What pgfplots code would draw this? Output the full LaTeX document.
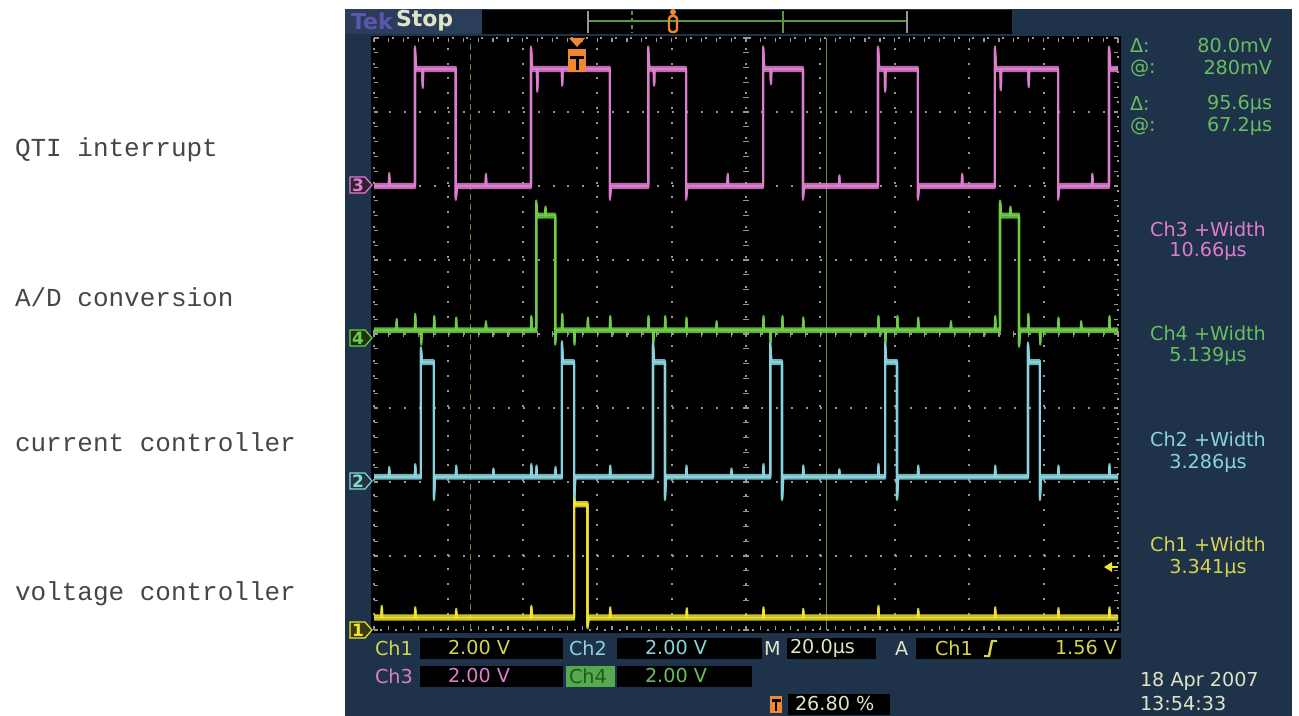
\documentclass[border=0pt]{standalone}
\usepackage{pgfplots}
\pgfplotsset{compat=1.18}
\usepackage{pgfplotstable}
\usepackage{fontspec}
\setmainfont{DejaVu Sans}
\newfontfamily\monof{Liberation Mono}

\definecolor{navy}{RGB}{30,50,74}
\definecolor{navylight}{RGB}{42,62,92}
\definecolor{cpink}{RGB}{222,125,205}
\definecolor{cgreen}{RGB}{110,205,70}
\definecolor{ccyan}{RGB}{135,212,222}
\definecolor{cyellow}{RGB}{238,228,50}
\definecolor{cyellowt}{RGB}{215,210,80}
\definecolor{tgreen}{RGB}{105,190,95}
\definecolor{corange}{RGB}{240,135,50}
\definecolor{cursorc}{RGB}{90,150,70}
\definecolor{gridc}{RGB}{150,150,150}
\definecolor{ltext}{RGB}{225,228,195}
\definecolor{labc}{RGB}{70,70,70}
\definecolor{tekc}{RGB}{95,85,175}
\definecolor{chfourbox}{RGB}{85,170,80}
\definecolor{chfourtxt}{RGB}{30,90,30}

% Ch3 (pink): time in microseconds, level in divisions
\pgfplotstableread{
t v
0 6.00
4.0 6.00
4.1 6.15
4.2 6.00
11.0 6.00
11.0 7.86
11.3 7.58
13.0 7.58
13.1 7.35
13.2 7.58
22.0 7.58
22.0 5.84
22.3 6.00
30.0 6.00
30.1 6.14
30.2 6.00
42.2 6.00
42.2 7.86
42.5 7.58
43.8 7.58
43.9 7.30
44.0 7.58
50.5 7.58
50.6 7.38
50.7 7.58
63.4 7.58
63.4 5.84
63.7 6.00
73.7 6.00
73.7 7.86
74.0 7.58
75.2 7.58
75.3 7.38
75.4 7.58
83.9 7.58
83.9 5.84
84.2 6.00
95.0 6.00
95.1 6.14
95.2 6.00
104.6 6.00
104.6 7.86
104.9 7.58
106.6 7.58
106.7 7.40
106.8 7.58
115.3 7.58
115.3 5.84
115.6 6.00
125.0 6.00
125.1 6.12
125.2 6.00
135.5 6.00
135.5 7.86
135.8 7.58
137.3 7.58
137.4 7.30
137.5 7.58
146.2 7.58
146.2 5.84
146.5 6.00
158.0 6.00
158.1 6.14
158.2 6.00
166.9 6.00
166.9 7.86
167.2 7.58
168.4 7.58
168.5 7.32
168.6 7.58
175.9 7.58
176.0 7.36
176.1 7.58
183.9 7.58
183.9 5.84
184.2 6.00
193.0 6.00
193.1 6.14
193.2 6.00
197.6 6.00
197.6 7.86
197.9 7.58
200 7.58
}\pinktab

% Ch4 (green)
\pgfplotstableread{
t v
0 4.05
6.0 4.05
6.1 4.18
6.2 4.05
11.0 4.05
11.1 4.25
11.2 4.05
12.6 4.05
12.7 3.88
12.8 4.05
16.1 4.05
16.2 4.22
16.3 4.05
22.0 4.05
22.1 4.20
22.2 4.05
30.0 4.05
30.1 4.15
30.2 4.05
42.2 4.05
42.3 4.22
42.4 4.05
43.6 4.05
43.6 5.78
43.9 5.60
46.0 5.60
46.1 5.70
46.2 5.60
48.7 5.60
48.7 3.88
49.0 4.05
50.5 4.05
50.6 4.25
50.7 4.05
53.8 4.05
53.9 3.88
54.0 4.05
57.4 4.05
57.5 4.20
57.6 4.05
63.4 4.05
63.5 4.22
63.6 4.05
73.7 4.05
73.8 4.22
73.9 4.05
75.0 4.05
75.1 3.90
75.2 4.05
78.2 4.05
78.3 4.22
78.4 4.05
83.9 4.05
84.0 4.20
84.1 4.05
92.0 4.05
92.1 4.15
92.2 4.05
104.6 4.05
104.7 4.22
104.8 4.05
106.5 4.05
106.6 3.90
106.7 4.05
109.7 4.05
109.8 4.22
109.9 4.05
115.3 4.05
115.4 4.20
115.5 4.05
135.5 4.05
135.6 4.22
135.7 4.05
137.4 4.05
137.5 3.90
137.6 4.05
140.6 4.05
140.7 4.22
140.8 4.05
146.2 4.05
146.3 4.20
146.4 4.05
155.0 4.05
155.1 4.15
155.2 4.05
166.9 4.05
167.0 4.22
167.1 4.05
168.3 4.05
168.3 5.78
168.6 5.60
171.0 5.60
171.1 5.70
171.2 5.60
173.4 5.60
173.4 3.85
173.7 4.05
175.8 4.05
175.9 4.25
176.0 4.05
179.0 4.05
179.1 3.88
179.2 4.05
183.9 4.05
184.0 4.20
184.1 4.05
190.0 4.05
190.1 4.15
190.2 4.05
197.6 4.05
197.7 4.22
197.8 4.05
200 4.05
}\greentab

% Ch2 (cyan)
\pgfplotstableread{
t v
0 2.07
4.0 2.07
4.1 2.18
4.2 2.07
11.0 2.07
11.1 2.22
11.2 2.07
12.6 2.07
12.6 3.80
12.9 3.62
16.1 3.62
16.1 1.78
16.4 2.07
22.0 2.07
22.1 2.20
22.2 2.07
32.0 2.07
32.1 2.16
32.2 2.07
42.2 2.07
42.3 2.22
42.4 2.07
43.6 2.07
43.7 2.20
43.8 2.07
48.7 2.07
48.8 2.18
48.9 2.07
50.5 2.07
50.5 3.88
50.8 3.62
53.8 3.62
53.8 1.72
54.1 2.07
63.4 2.07
63.5 2.20
63.6 2.07
75.0 2.07
75.0 3.86
75.3 3.62
78.2 3.62
78.2 1.78
78.5 2.07
83.9 2.07
84.0 2.20
84.1 2.07
96.0 2.07
96.1 2.16
96.2 2.07
104.6 2.07
104.7 2.22
104.8 2.07
106.5 2.07
106.5 3.86
106.8 3.62
109.7 3.62
109.7 1.78
110.0 2.07
115.3 2.07
115.4 2.20
115.5 2.07
125.0 2.07
125.1 2.15
125.2 2.07
135.5 2.07
135.6 2.22
135.7 2.07
137.4 2.07
137.4 3.86
137.7 3.62
140.6 3.62
140.6 1.78
140.9 2.07
146.2 2.07
146.3 2.20
146.4 2.07
166.9 2.07
167.0 2.20
167.1 2.07
175.8 2.07
175.8 3.86
176.1 3.62
179.0 3.62
179.0 1.78
179.3 2.07
183.9 2.07
184.0 2.20
184.1 2.07
197.6 2.07
197.7 2.22
197.8 2.07
200 2.07
}\cyantab

% Ch1 (yellow)
\pgfplotstableread{
t v
0 0.17
2.0 0.17
2.1 0.30
2.2 0.17
11.0 0.17
11.1 0.28
11.2 0.17
22.0 0.17
22.1 0.26
22.2 0.17
42.2 0.17
42.3 0.30
42.4 0.17
53.8 0.17
53.8 1.75
54.1 1.70
57.4 1.70
57.4 0.05
57.7 0.17
63.4 0.17
63.5 0.28
63.6 0.17
84.0 0.17
84.1 0.27
84.2 0.17
104.6 0.17
104.7 0.28
104.8 0.17
115.3 0.17
115.4 0.26
115.5 0.17
135.5 0.17
135.6 0.30
135.7 0.17
146.2 0.17
146.3 0.26
146.4 0.17
166.9 0.17
167.0 0.28
167.1 0.17
183.9 0.17
184.0 0.27
184.1 0.17
197.6 0.17
197.7 0.28
197.8 0.17
200 0.17
}\yellowtab

\newcommand{\scp}{\fontsize{9.6}{11}\selectfont}

\begin{document}
\begin{tikzpicture}
% ---------- background (pixel coordinates, 1 px = 0.5 pt) ----------
\begin{scope}[x=0.5pt,y=-0.5pt]
\useasboundingbox (0,0) rectangle (1299,716);
\fill[white] (0,0) rectangle (1299,716);
\fill[navy] (345,9) rectangle (1292,716);
\fill[navylight] (345,9) rectangle (482,34);
\fill[black] (482,10) rectangle (1012,34);
% record view
\draw[cursorc, line width=0.8pt] (588,21) -- (907,21);
\draw[gridc, line width=0.6pt] (588,11) -- (588,33);
\draw[gridc, line width=0.6pt] (907,11) -- (907,33);
\draw[cursorc, line width=0.6pt, dash pattern=on 2pt off 1.5pt] (632,11) -- (632,33);
\draw[cursorc, line width=0.6pt] (783,11) -- (783,33);
\draw[corange, line width=1.2pt, rounded corners=1.5pt] (669,16) rectangle (677,32);
\fill[corange] (673,12) circle (3);
% graticule area
\fill[black] (371,36) rectangle (1121,633);
% center line ticks
\foreach \i in {0,...,50} {\draw[gridc, line width=0.6pt] ({374+\i*14.88},331) -- ++(0,6);}
\foreach \i in {0,...,40} {\draw[gridc, line width=0.6pt] (743,{38+\i*14.8}) -- ++(6,0);}
% border ticks
\foreach \i in {0,...,50} {\draw[gridc, line width=0.6pt] ({374+\i*14.88},38) -- ++(0,4);
  \draw[gridc, line width=0.6pt] ({374+\i*14.88},630) -- ++(0,-4);}
\foreach \i in {0,...,40} {\draw[gridc, line width=0.6pt] (374,{38+\i*14.8}) -- ++(4,0);
  \draw[gridc, line width=0.6pt] (1118,{38+\i*14.8}) -- ++(-4,0);}
\end{scope}

% ---------- oscilloscope traces ----------
\begin{axis}[
  at={(187pt,-315pt)}, anchor=south west,
  scale only axis, width=372pt, height=296pt,
  xmin=0, xmax=200, ymin=0, ymax=8,
  xtick={20,40,...,180}, ytick={1,2,...,7},
  xticklabels={}, yticklabels={},
  major tick length=0pt,
  grid=major,
  major grid style={draw=gridc, line width=1pt, dash pattern=on 1pt off 6.44pt},
  axis line style={draw=gridc, line width=1pt, dash pattern=on 1pt off 6.44pt},
  trace/.style={line width=1.1pt, line join=round, mark=none},
  band/.style={line width=1.1pt, line join=round, mark=none, opacity=0.85},
]
% cursors
\addplot[cursorc, line width=0.7pt, dash pattern=on 3pt off 2pt] coordinates {(26.0,0) (26.0,8)};
\addplot[cursorc, line width=0.7pt] coordinates {(121.7,0) (121.7,8)};
% Ch3
\addplot[band, cpink, yshift=1.0pt] table {\pinktab};
\addplot[band, cpink, yshift=-1.0pt] table {\pinktab};
\addplot[trace, cpink] table {\pinktab};
% Ch4
\addplot[band, cgreen, yshift=0.9pt] table {\greentab};
\addplot[band, cgreen, yshift=-0.9pt] table {\greentab};
\addplot[trace, cgreen] table {\greentab};
% Ch2
\addplot[band, ccyan, yshift=0.9pt] table {\cyantab};
\addplot[band, ccyan, yshift=-0.9pt] table {\cyantab};
\addplot[trace, ccyan] table {\cyantab};
% Ch1
\addplot[band, cyellow, yshift=1.0pt] table {\yellowtab};
\addplot[band, cyellow, yshift=-1.0pt] table {\yellowtab};
\addplot[trace, cyellow] table {\yellowtab};
\end{axis}

% ---------- overlay (pixel coordinates) ----------
\begin{scope}[x=0.5pt,y=-0.5pt, every node/.style={inner sep=0pt, outer sep=0pt}]
% left labels
\begin{scope}[every node/.append style={anchor=west, text=labc, font=\monof\fontsize{13}{15}\selectfont}]
\node at (15,150) {QTI interrupt};
\node at (15,297) {A/D conversion};
\node at (15,442) {current controller};
\node at (15,594) {voltage controller};
\end{scope}
% top bar text
\node[anchor=west, text=tekc, font=\bfseries\fontsize{11}{13}\selectfont] at (351,21) {Tek};
\node[anchor=west, text=ltext, font=\bfseries\fontsize{11}{13}\selectfont] at (396,21) {Stop};
% trigger marker
\fill[corange] (569,38) -- (585,38) -- (577,47) -- cycle;
\fill[corange] (568,49) rectangle (586,72);
\fill[black] (570,56) rectangle (584,59);
\fill[black] (575.5,56) rectangle (578.5,70);
% trigger level arrow
\fill[cyellow] (1104,567) -- (1112,562) -- (1112,572) -- cycle;
\draw[cyellow, line width=0.8pt] (1111,567) -- (1118,567);
% channel markers
\foreach \n/\yy/\c in {3/185/cpink, 4/338/cgreen, 2/481/ccyan, 1/630/cyellow} {
  \filldraw[draw=\c, fill=\c!25!black, line width=0.6pt] (350,{\yy-8}) -- (365,{\yy-8}) -- (372,\yy) -- (365,{\yy+8}) -- (350,{\yy+8}) -- cycle;
  \node[text=\c, font=\bfseries\fontsize{8.5}{9}\selectfont] at (358,\yy) {\n};
}
% right measurement panel
\begin{scope}[every node/.append style={font=\scp}]
\node[anchor=west, text=tgreen] at (1130,46) {Δ:};
\node[anchor=east, text=tgreen] at (1272,46) {80.0mV};
\node[anchor=west, text=tgreen] at (1130,68) {@:};
\node[anchor=east, text=tgreen] at (1272,68) {280mV};
\node[anchor=west, text=tgreen] at (1130,104) {Δ:};
\node[anchor=east, text=tgreen] at (1272,104) {95.6µs};
\node[anchor=west, text=tgreen] at (1130,126) {@:};
\node[anchor=east, text=tgreen] at (1272,126) {67.2µs};
\node[text=cpink] at (1208,229) {Ch3 +Width};
\node[text=cpink] at (1208,251) {10.66µs};
\node[text=tgreen] at (1208,333) {Ch4 +Width};
\node[text=tgreen] at (1208,356) {5.139µs};
\node[text=ccyan] at (1208,439) {Ch2 +Width};
\node[text=ccyan] at (1208,463) {3.286µs};
\node[text=cyellowt] at (1208,544) {Ch1 +Width};
\node[text=cyellowt] at (1208,568) {3.341µs};
\node[anchor=west, text=ltext] at (1140,681) {18 Apr  2007};
\node[anchor=west, text=ltext] at (1140,704) {13:54:33};
% bottom status rows
\node[anchor=west, text=cyellowt] at (375,648) {Ch1};
\fill[black] (420,638) rectangle (563,659);
\node[anchor=west, text=cyellowt] at (448,648) {2.00 V};
\node[anchor=west, text=ccyan] at (569,648) {Ch2};
\fill[black] (617,638) rectangle (762,659);
\node[anchor=west, text=ccyan] at (645,648) {2.00 V};
\node[anchor=west, text=ltext] at (764,648) {M};
\fill[black] (787,638) rectangle (876,659);
\node[anchor=west, text=ltext] at (790,648) {20.0µs};
\node[anchor=west, text=ltext] at (895,648) {A};
\fill[black] (916,638) rectangle (1121,659);
\node[anchor=west, text=cyellowt] at (935,648) {Ch1};
\draw[cyellowt, line width=1.2pt] (984,656) -- (989,656) -- (992,641) -- (997,641);
\node[anchor=east, text=cyellowt] at (1117,648) {1.56 V};
\node[anchor=west, text=cpink] at (375,676) {Ch3};
\fill[black] (420,666) rectangle (563,687);
\node[anchor=west, text=cpink] at (448,676) {2.00 V};
\fill[chfourbox] (566,666) rectangle (615,687);
\node[anchor=west, text=chfourtxt] at (569,676) {Ch4};
\fill[black] (617,666) rectangle (752,687);
\node[anchor=west, text=tgreen] at (645,676) {2.00 V};
\fill[corange] (770,696) rectangle (782,713);
\fill[black] (771.5,699) rectangle (780.5,701.5);
\fill[black] (775,699) rectangle (777,711);
\fill[black] (788,694) rectangle (890,715);
\node[anchor=west, text=ltext] at (795,704) {26.80 \%};
\end{scope}
\end{scope}
\end{tikzpicture}
\end{document}
